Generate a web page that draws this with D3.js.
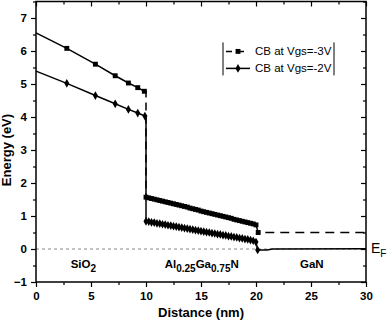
<!DOCTYPE html>
<html>
<head>
<meta charset="utf-8">
<script src="https://cdn.jsdelivr.net/npm/d3@7"></script>
<style>
  body { margin: 0; background: #fff; }
  text { font-family: 'Liberation Sans', Arial, sans-serif; }
</style>
</head>
<body>
<div id="chart"></div>
<script>
// conduction band, Vgs = -3V  [distance nm, energy eV]
var cb3Oxide = [[0, 6.55], [2.8, 6.08], [5.4, 5.6], [7.2, 5.25], [8.4, 5.03], [9.25, 4.89], [9.85, 4.78]]
var cb3Barrier = [
  [10, 1.57], [10.25, 1.55], [10.5, 1.53], [10.75, 1.51], [11, 1.49], [11.25, 1.47], [11.5, 1.45], [11.75, 1.43],
  [12, 1.41], [12.25, 1.39], [12.5, 1.37], [12.75, 1.35], [13, 1.33], [13.25, 1.31], [13.5, 1.29], [13.75, 1.27],
  [14, 1.24], [14.25, 1.22], [14.5, 1.2], [14.75, 1.18], [15, 1.15], [15.25, 1.13], [15.5, 1.11], [15.75, 1.09],
  [16, 1.07], [16.25, 1.05], [16.5, 1.03], [16.75, 1.01], [17, 0.99], [17.25, 0.97], [17.5, 0.95], [17.75, 0.93],
  [18, 0.9], [18.25, 0.88], [18.5, 0.86], [18.75, 0.84], [19, 0.82], [19.25, 0.8], [19.5, 0.78], [19.75, 0.76],
  [20, 0.73]
]
var cb3Channel = [[20.2, 0.5], [30, 0.5]]

// conduction band, Vgs = -2V
var cb2Oxide = [[0, 5.39], [2.8, 5.02], [5.4, 4.65], [7.2, 4.4], [8.4, 4.23], [9.25, 4.12], [9.9, 4.03]]
var cb2Barrier = [
  [10, 0.84], [10.25, 0.83], [10.5, 0.81], [10.75, 0.8], [11, 0.78], [11.25, 0.77], [11.5, 0.75], [11.75, 0.74],
  [12, 0.72], [12.25, 0.71], [12.5, 0.69], [12.75, 0.68], [13, 0.66], [13.25, 0.65], [13.5, 0.63], [13.75, 0.62],
  [14, 0.6], [14.25, 0.59], [14.5, 0.57], [14.75, 0.56], [15, 0.54], [15.25, 0.53], [15.5, 0.51], [15.75, 0.5],
  [16, 0.48], [16.25, 0.47], [16.5, 0.45], [16.75, 0.44], [17, 0.42], [17.25, 0.41], [17.5, 0.39], [17.75, 0.38],
  [18, 0.36], [18.25, 0.35], [18.5, 0.33], [18.75, 0.32], [19, 0.3], [19.25, 0.29], [19.5, 0.27], [19.75, 0.25],
  [20, 0.21]
]
var cb2Channel = [[20.15, -0.03], [21, -0.03], [21.5, 0], [30, 0.01]]

var xTicks = [0, 5, 10, 15, 20, 25, 30]
var xMinorTicks = [2.5, 7.5, 12.5, 17.5, 22.5, 27.5]
var yTicks = [-1, 0, 1, 2, 3, 4, 5, 6, 7]
var yMinorTicks = [-0.5, 0.5, 1.5, 2.5, 3.5, 4.5, 5.5, 6.5, 7.5]

var margin = { top: 1.5, left: 36, right: 22, bottom: 44 }
var width = 388 - margin.left - margin.right
var height = 326 - margin.top - margin.bottom

var svg = d3
  .select('#chart')
  .append('svg')
  .attr('width', 388)
  .attr('height', 326)
  .append('g')
  .attr('transform', 'translate(' + margin.left + ',' + margin.top + ')')

var x = d3.scaleLinear().domain([0, 30]).range([0, width])
var y = d3.scaleLinear().domain([-1, 7.5]).range([height, 0])

var line = d3
  .line()
  .x(d => x(d[0]))
  .y(d => y(d[1]))

// Fermi level reference
svg
  .append('path')
  .attr('d', line([[0, 0], [30, 0]]))
  .attr('stroke', '#888')
  .attr('stroke-width', 1)
  .attr('stroke-dasharray', '3,3')
  .attr('fill', 'none')

// Vgs=-3V : solid in the oxide, dashed elsewhere
svg.append('path')
  .attr('d', line(cb3Oxide))
  .attr('stroke', '#000').attr('stroke-width', 1.5).attr('fill', 'none')
svg.append('path')
  .attr('d', line([cb3Oxide[cb3Oxide.length - 1], [10, cb3Oxide[cb3Oxide.length - 1][1]], cb3Barrier[0]]))
  .attr('stroke', '#000').attr('stroke-width', 1.5).attr('fill', 'none')
  .attr('stroke-dasharray', '8,5')
svg.append('path')
  .attr('d', line(cb3Barrier))
  .attr('stroke', '#000').attr('stroke-width', 1.5).attr('fill', 'none')
svg.append('path')
  .attr('d', line([cb3Barrier[cb3Barrier.length - 1]].concat(cb3Channel)))
  .attr('stroke', '#000').attr('stroke-width', 1.5).attr('fill', 'none')
  .attr('stroke-dasharray', '9,6')

// Vgs=-2V : solid
var cb2All = cb2Oxide.concat([[10, cb2Oxide[cb2Oxide.length - 1][1]]], cb2Barrier, cb2Channel)
svg.append('path')
  .attr('d', line(cb2All))
  .attr('stroke', '#000').attr('stroke-width', 1.5).attr('fill', 'none')

var square = d3.symbol().type(d3.symbolSquare).size(24)
var diamond = d3.symbol().type(d3.symbolDiamond).size(22)

svg
  .selectAll('.sq')
  .data(cb3Oxide.slice(1).concat(cb3Barrier, [cb3Channel[0]]))
  .enter()
  .append('path')
  .attr('class', 'sq')
  .attr('d', square)
  .attr('transform', d => 'translate(' + x(d[0]) + ',' + y(d[1]) + ')')
  .attr('fill', '#000')

svg
  .selectAll('.dm')
  .data(cb2Oxide.slice(1).concat(cb2Barrier, [cb2Channel[0]]))
  .enter()
  .append('path')
  .attr('class', 'dm')
  .attr('d', diamond)
  .attr('transform', d => 'translate(' + x(d[0]) + ',' + y(d[1]) + ')')
  .attr('fill', '#000')

// axes
var xAxis = d3.axisBottom(x).tickValues(xTicks).tickSize(5).tickPadding(5)
var xMinor = d3.axisBottom(x).tickValues(xMinorTicks).tickSize(3).tickFormat('')
var yAxis = d3.axisLeft(y).tickValues(yTicks).tickSize(5).tickPadding(4)
var yMinor = d3.axisLeft(y).tickValues(yMinorTicks).tickSize(3).tickFormat('')

svg.append('g').attr('class', 'axis').attr('transform', 'translate(0,' + height + ')').call(xAxis)
svg.append('g').attr('class', 'axis').attr('transform', 'translate(0,' + height + ')').call(xMinor)
svg.append('g').attr('class', 'axis').call(yAxis)
svg.append('g').attr('class', 'axis').call(yMinor)
// inward ticks on top and right
svg.append('g').attr('class', 'axis').call(d3.axisBottom(x).tickValues(xTicks).tickSize(5).tickFormat(''))
svg.append('g').attr('class', 'axis').call(d3.axisBottom(x).tickValues(xMinorTicks).tickSize(3).tickFormat(''))
svg.append('g').attr('class', 'axis').attr('transform', 'translate(' + width + ',0)')
  .call(d3.axisLeft(y).tickValues(yTicks).tickSize(5).tickFormat(''))
svg.append('g').attr('class', 'axis').attr('transform', 'translate(' + width + ',0)')
  .call(d3.axisLeft(y).tickValues(yMinorTicks).tickSize(3).tickFormat(''))

svg.selectAll('.axis .domain').remove()
svg.selectAll('.axis line').attr('stroke', '#000').attr('stroke-width', 1.2)
svg.selectAll('.axis text')
  .attr('font-family', "'Liberation Sans', Arial, sans-serif")
  .attr('font-size', 11.5)
  .attr('font-weight', 'bold')
  .attr('fill', '#000')

svg
  .append('rect')
  .attr('width', width)
  .attr('height', height)
  .attr('fill', 'none')
  .attr('stroke', '#000')
  .attr('stroke-width', 1.5)

// axis titles
svg.append('text')
  .text('Distance (nm)')
  .attr('x', width / 2)
  .attr('y', height + 35)
  .attr('text-anchor', 'middle')
  .attr('font-size', 13)
  .attr('font-weight', 'bold')

svg.append('text')
  .text('Energy (eV)')
  .attr('transform', 'translate(' + (-25) + ',' + y(3) + ') rotate(-90)')
  .attr('text-anchor', 'middle')
  .attr('font-size', 13)
  .attr('font-weight', 'bold')

// region labels
var sio2 = svg.append('text').attr('x', x(3.15)).attr('y', height - 14)
  .attr('font-size', 11.5).attr('font-weight', 'bold')
sio2.append('tspan').text('SiO')
sio2.append('tspan').text('2').attr('font-size', 10).attr('dy', 4)

var algan = svg.append('text').attr('x', x(11.7)).attr('y', height - 14)
  .attr('font-size', 11.5).attr('font-weight', 'bold')
algan.append('tspan').text('Al')
algan.append('tspan').text('0.25').attr('font-size', 10).attr('dy', 4)
algan.append('tspan').text('Ga').attr('dy', -4)
algan.append('tspan').text('0.75').attr('font-size', 10).attr('dy', 4)
algan.append('tspan').text('N').attr('dy', -4)

svg.append('text').text('GaN').attr('x', x(24.0)).attr('y', height - 14)
  .attr('font-size', 11.5).attr('font-weight', 'bold')

var ef = svg.append('text').attr('x', width + 5).attr('y', y(0) + 4).attr('font-size', 14)
ef.append('tspan').text('E')
ef.append('tspan').text('F').attr('font-size', 10).attr('dy', 4)

// legend
var legend = svg.append('g').attr('transform', 'translate(' + (x(17.0)) + ',' + (y(6.2)) + ')')
legend.append('line').attr('x1', 0).attr('x2', 0).attr('y1', -2).attr('y2', 31).attr('stroke', '#000')
legend.append('line').attr('x1', 111).attr('x2', 111).attr('y1', -2).attr('y2', 31).attr('stroke', '#000')

legend.append('path').attr('d', 'M3,7H27').attr('stroke', '#000').attr('stroke-width', 1.5).attr('stroke-dasharray', '6,6')
legend.append('path').attr('d', square).attr('transform', 'translate(15,7)').attr('fill', '#000')
legend.append('text').text('CB at Vgs=-3V').attr('x', 32).attr('y', 11).attr('font-size', 11.5)

legend.append('path').attr('d', 'M3,24H27').attr('stroke', '#000').attr('stroke-width', 1.5)
legend.append('path').attr('d', diamond).attr('transform', 'translate(15,24)').attr('fill', '#000')
legend.append('text').text('CB at Vgs=-2V').attr('x', 32).attr('y', 28).attr('font-size', 11.5)
</script>
</body>
</html>
